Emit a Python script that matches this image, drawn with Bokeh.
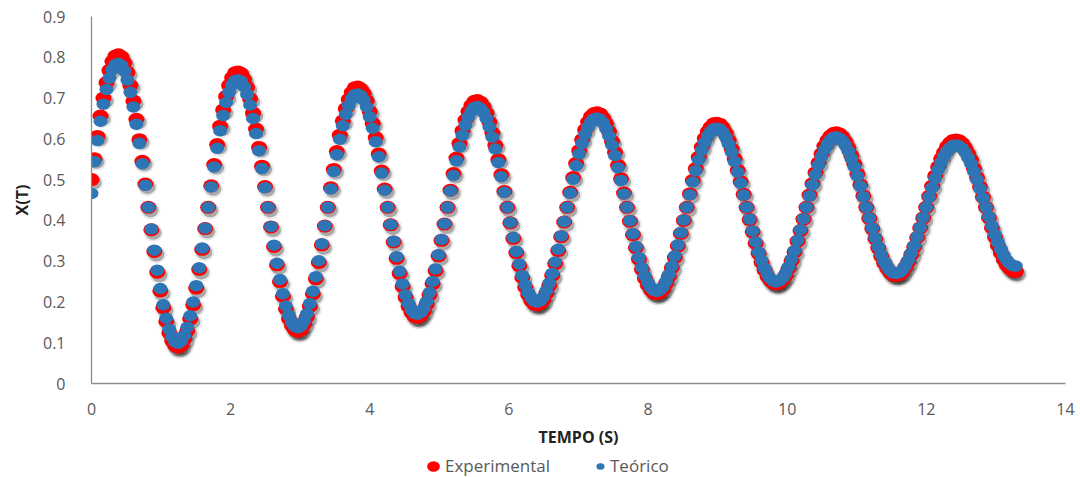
from bokeh.plotting import figure
from bokeh.layouts import column
from bokeh.models import Range1d, Legend, LegendItem, CustomJSTickFormatter, FixedTicker
from bokeh.embed import file_html
from bokeh.resources import INLINE

# ---------------- data ----------------
tempo = [
    0, 0.043, 0.086, 0.129, 0.172, 0.215, 0.258, 0.301, 0.344, 0.387,
    0.43, 0.473, 0.516, 0.559, 0.602, 0.645, 0.688, 0.731, 0.774, 0.817,
    0.86, 0.903, 0.946, 0.989, 1.032, 1.075, 1.118, 1.161, 1.204, 1.247,
    1.29, 1.333, 1.376, 1.419, 1.462, 1.505, 1.548, 1.591, 1.634, 1.677,
    1.72, 1.763, 1.806, 1.849, 1.892, 1.935, 1.978, 2.021, 2.064, 2.107,
    2.15, 2.193, 2.236, 2.279, 2.322, 2.365, 2.408, 2.451, 2.494, 2.537,
    2.58, 2.623, 2.666, 2.709, 2.752, 2.795, 2.838, 2.881, 2.924, 2.967,
    3.01, 3.053, 3.096, 3.139, 3.182, 3.225, 3.268, 3.311, 3.354, 3.397,
    3.44, 3.483, 3.526, 3.569, 3.612, 3.655, 3.698, 3.741, 3.784, 3.827,
    3.87, 3.913, 3.956, 3.999, 4.042, 4.085, 4.128, 4.171, 4.214, 4.257,
    4.3, 4.343, 4.386, 4.429, 4.472, 4.515, 4.558, 4.601, 4.644, 4.687,
    4.73, 4.773, 4.816, 4.859, 4.902, 4.945, 4.988, 5.031, 5.074, 5.117,
    5.16, 5.203, 5.246, 5.289, 5.332, 5.375, 5.418, 5.461, 5.504, 5.547,
    5.59, 5.633, 5.676, 5.719, 5.762, 5.805, 5.848, 5.891, 5.934, 5.977,
    6.02, 6.063, 6.106, 6.149, 6.192, 6.235, 6.278, 6.321, 6.364, 6.407,
    6.45, 6.493, 6.536, 6.579, 6.622, 6.665, 6.708, 6.751, 6.794, 6.837,
    6.88, 6.923, 6.966, 7.009, 7.052, 7.095, 7.138, 7.181, 7.224, 7.267,
    7.31, 7.353, 7.396, 7.439, 7.482, 7.525, 7.568, 7.611, 7.654, 7.697,
    7.74, 7.783, 7.826, 7.869, 7.912, 7.955, 7.998, 8.041, 8.084, 8.127,
    8.17, 8.213, 8.256, 8.299, 8.342, 8.385, 8.428, 8.471, 8.514, 8.557,
    8.6, 8.643, 8.686, 8.729, 8.772, 8.815, 8.858, 8.901, 8.944, 8.987,
    9.03, 9.073, 9.116, 9.159, 9.202, 9.245, 9.288, 9.331, 9.374, 9.417,
    9.46, 9.503, 9.546, 9.589, 9.632, 9.675, 9.718, 9.761, 9.804, 9.847,
    9.89, 9.933, 9.976, 10.019, 10.062, 10.105, 10.148, 10.191, 10.234, 10.277,
    10.32, 10.363, 10.406, 10.449, 10.492, 10.535, 10.578, 10.621, 10.664, 10.707,
    10.75, 10.793, 10.836, 10.879, 10.922, 10.965, 11.008, 11.051, 11.094, 11.137,
    11.18, 11.223, 11.266, 11.309, 11.352, 11.395, 11.438, 11.481, 11.524, 11.567,
    11.61, 11.653, 11.696, 11.739, 11.782, 11.825, 11.868, 11.911, 11.954, 11.997,
    12.04, 12.083, 12.126, 12.169, 12.212, 12.255, 12.298, 12.341, 12.384, 12.427,
    12.47, 12.513, 12.556, 12.599, 12.642, 12.685, 12.728, 12.771, 12.814, 12.857,
    12.9, 12.943, 12.986, 13.029, 13.072, 13.115, 13.158, 13.201, 13.244, 13.287,
]

experimental = [
    0.500, 0.551, 0.606, 0.656, 0.700, 0.738, 0.768, 0.790, 0.803, 0.806,
    0.801, 0.786, 0.763, 0.731, 0.693, 0.648, 0.598, 0.545, 0.489, 0.432,
    0.377, 0.324, 0.273, 0.227, 0.186, 0.152, 0.124, 0.104, 0.092, 0.089,
    0.094, 0.109, 0.129, 0.158, 0.193, 0.234, 0.280, 0.329, 0.380, 0.432,
    0.485, 0.537, 0.586, 0.631, 0.671, 0.704, 0.731, 0.750, 0.762, 0.764,
    0.760, 0.746, 0.726, 0.698, 0.663, 0.624, 0.579, 0.533, 0.483, 0.432,
    0.384, 0.336, 0.291, 0.250, 0.214, 0.183, 0.159, 0.142, 0.131, 0.128,
    0.132, 0.145, 0.163, 0.189, 0.220, 0.257, 0.297, 0.340, 0.386, 0.432,
    0.480, 0.525, 0.569, 0.609, 0.644, 0.674, 0.697, 0.714, 0.725, 0.727,
    0.722, 0.711, 0.693, 0.667, 0.638, 0.603, 0.563, 0.521, 0.477, 0.432,
    0.389, 0.347, 0.307, 0.270, 0.238, 0.211, 0.189, 0.174, 0.164, 0.162,
    0.166, 0.177, 0.194, 0.217, 0.245, 0.277, 0.313, 0.351, 0.391, 0.432,
    0.474, 0.515, 0.553, 0.589, 0.620, 0.646, 0.667, 0.682, 0.692, 0.694,
    0.690, 0.679, 0.663, 0.641, 0.614, 0.584, 0.549, 0.512, 0.471, 0.432,
    0.394, 0.356, 0.321, 0.289, 0.260, 0.236, 0.217, 0.203, 0.195, 0.193,
    0.196, 0.205, 0.221, 0.240, 0.265, 0.294, 0.326, 0.360, 0.396, 0.432,
    0.469, 0.505, 0.540, 0.571, 0.598, 0.622, 0.641, 0.655, 0.662, 0.664,
    0.661, 0.651, 0.637, 0.618, 0.594, 0.567, 0.535, 0.502, 0.467, 0.432,
    0.398, 0.365, 0.333, 0.305, 0.280, 0.258, 0.241, 0.229, 0.222, 0.220,
    0.223, 0.231, 0.245, 0.262, 0.284, 0.309, 0.337, 0.368, 0.400, 0.432,
    0.465, 0.498, 0.527, 0.555, 0.580, 0.601, 0.618, 0.629, 0.637, 0.638,
    0.636, 0.627, 0.614, 0.596, 0.575, 0.551, 0.523, 0.495, 0.464, 0.432,
    0.402, 0.372, 0.344, 0.319, 0.297, 0.278, 0.262, 0.252, 0.246, 0.244,
    0.247, 0.254, 0.265, 0.282, 0.301, 0.323, 0.349, 0.375, 0.403, 0.432,
    0.462, 0.490, 0.517, 0.541, 0.563, 0.582, 0.596, 0.607, 0.613, 0.615,
    0.612, 0.605, 0.593, 0.578, 0.559, 0.538, 0.514, 0.487, 0.460, 0.432,
    0.405, 0.380, 0.355, 0.332, 0.312, 0.295, 0.282, 0.272, 0.266, 0.265,
    0.267, 0.273, 0.285, 0.298, 0.316, 0.335, 0.358, 0.382, 0.406, 0.432,
    0.459, 0.484, 0.509, 0.531, 0.551, 0.567, 0.581, 0.590, 0.596, 0.597,
    0.595, 0.589, 0.578, 0.564, 0.548, 0.527, 0.505, 0.482, 0.457, 0.432,
    0.407, 0.382, 0.359, 0.338, 0.320, 0.303, 0.290, 0.282, 0.276, 0.275,
]

teorico = [
    0.466, 0.544, 0.596, 0.643, 0.685, 0.721, 0.749, 0.770, 0.782, 0.785,
    0.780, 0.766, 0.744, 0.714, 0.678, 0.636, 0.589, 0.539, 0.486, 0.432,
    0.379, 0.327, 0.278, 0.233, 0.193, 0.160, 0.133, 0.114, 0.102, 0.099,
    0.104, 0.118, 0.138, 0.166, 0.200, 0.240, 0.284, 0.332, 0.381, 0.432,
    0.482, 0.531, 0.577, 0.620, 0.657, 0.689, 0.714, 0.732, 0.743, 0.745,
    0.741, 0.728, 0.709, 0.683, 0.650, 0.613, 0.571, 0.527, 0.480, 0.432,
    0.385, 0.339, 0.295, 0.255, 0.220, 0.190, 0.167, 0.150, 0.140, 0.137,
    0.141, 0.153, 0.171, 0.196, 0.226, 0.262, 0.301, 0.343, 0.387, 0.432,
    0.477, 0.520, 0.561, 0.599, 0.632, 0.660, 0.682, 0.698, 0.708, 0.710,
    0.706, 0.695, 0.678, 0.654, 0.626, 0.593, 0.556, 0.516, 0.474, 0.432,
    0.390, 0.349, 0.311, 0.275, 0.244, 0.217, 0.196, 0.181, 0.172, 0.170,
    0.174, 0.184, 0.201, 0.223, 0.250, 0.281, 0.316, 0.353, 0.392, 0.432,
    0.472, 0.510, 0.546, 0.580, 0.609, 0.634, 0.654, 0.668, 0.677, 0.679,
    0.675, 0.665, 0.650, 0.629, 0.604, 0.575, 0.542, 0.507, 0.469, 0.432,
    0.395, 0.358, 0.324, 0.293, 0.265, 0.242, 0.223, 0.210, 0.202, 0.200,
    0.203, 0.212, 0.227, 0.246, 0.270, 0.298, 0.329, 0.362, 0.397, 0.432,
    0.467, 0.501, 0.534, 0.563, 0.589, 0.611, 0.629, 0.642, 0.649, 0.651,
    0.648, 0.639, 0.625, 0.607, 0.585, 0.559, 0.529, 0.498, 0.465, 0.432,
    0.399, 0.367, 0.336, 0.309, 0.284, 0.263, 0.247, 0.235, 0.228, 0.226,
    0.229, 0.237, 0.250, 0.267, 0.288, 0.313, 0.340, 0.370, 0.401, 0.432,
    0.463, 0.494, 0.522, 0.548, 0.572, 0.591, 0.607, 0.618, 0.625, 0.626,
    0.624, 0.616, 0.604, 0.587, 0.567, 0.544, 0.518, 0.491, 0.462, 0.432,
    0.403, 0.374, 0.347, 0.322, 0.301, 0.282, 0.267, 0.257, 0.251, 0.249,
    0.252, 0.259, 0.270, 0.286, 0.305, 0.326, 0.351, 0.377, 0.404, 0.432,
    0.460, 0.487, 0.512, 0.535, 0.556, 0.573, 0.587, 0.597, 0.603, 0.605,
    0.602, 0.595, 0.584, 0.570, 0.552, 0.532, 0.509, 0.484, 0.458, 0.432,
    0.406, 0.381, 0.357, 0.335, 0.315, 0.299, 0.286, 0.277, 0.271, 0.270,
    0.272, 0.278, 0.289, 0.302, 0.319, 0.338, 0.360, 0.383, 0.407, 0.432,
    0.457, 0.480, 0.503, 0.524, 0.542, 0.557, 0.570, 0.578, 0.584, 0.585,
    0.583, 0.577, 0.567, 0.554, 0.539, 0.520, 0.500, 0.478, 0.455, 0.432,
    0.409, 0.386, 0.365, 0.346, 0.329, 0.314, 0.302, 0.294, 0.289, 0.288,
]

x_ticks = [0, 2, 4, 6, 8, 10, 12, 14]
y_ticks = [0, 0.1, 0.2, 0.3, 0.4, 0.5, 0.6, 0.7, 0.8, 0.9]
series_names = ["Experimental", "Teórico"]
series_colors = ["#FF0000", "#2E75B6"]

# ---------------- main figure ----------------
FONT = "Open Sans"
GRAY_TXT = "#595959"

p = figure(
    width=1080, height=450,
    min_border_left=91, min_border_right=15, min_border_top=16, min_border_bottom=66,
    x_range=Range1d(0, 14), y_range=Range1d(0, 0.9),
    output_backend="svg", toolbar_location=None, tools="",
)
p.outline_line_color = None
p.background_fill_color = "white"
p.border_fill_color = "white"
p.xgrid.visible = False
p.ygrid.visible = False

# shadow ranges (shift a few pixels right / down)
p.extra_x_ranges = {"sh": Range1d(-0.03, 13.97)}
p.extra_y_ranges = {"sh": Range1d(0.0075, 0.9075)}

for ax in (p.xaxis[0], p.yaxis[0]):
    ax.axis_line_color = "#8C8C8C"
    ax.axis_line_width = 1.3
    ax.major_tick_line_color = None
    ax.minor_tick_line_color = None
    ax.major_label_text_font = FONT
    ax.major_label_text_font_size = "16px"
    ax.major_label_text_color = GRAY_TXT
    ax.axis_label_text_font = FONT
    ax.axis_label_text_font_size = "16px"
    ax.axis_label_text_font_style = "bold"
    ax.axis_label_text_color = "#222222"

p.xaxis.ticker = FixedTicker(ticks=x_ticks)
p.yaxis.ticker = FixedTicker(ticks=y_ticks)
p.yaxis.formatter = CustomJSTickFormatter(code="return (Math.round(tick*10)/10).toString();")
p.xaxis.axis_label = "TEMPO (S)"
p.yaxis.axis_label = "X(T)"
p.xaxis.major_label_standoff = 13
p.xaxis.axis_label_standoff = 8
p.yaxis.major_label_standoff = 20
p.yaxis.axis_label_standoff = 7

# soft drop shadow under the markers
p.ellipse(x=tempo, y=experimental, width=20, height=18, width_units="screen", height_units="screen",
          fill_color="black", fill_alpha=0.08, line_color=None, x_range_name="sh", y_range_name="sh")
p.ellipse(x=tempo, y=experimental, width=16, height=14, width_units="screen", height_units="screen",
          fill_color="black", fill_alpha=0.28, line_color=None, x_range_name="sh", y_range_name="sh")

p.ellipse(x=tempo, y=experimental, width=16, height=13, width_units="screen", height_units="screen",
          fill_color=series_colors[0], line_color=None)
p.ellipse(x=tempo, y=teorico, width=14, height=11.5, width_units="screen", height_units="screen",
          fill_color=series_colors[1], line_color=None)

# ---------------- legend strip (same series, out of view; only the legend shows) ----------------
q = figure(
    width=1080, height=27, min_border=0,
    x_range=Range1d(100, 101), y_range=Range1d(100, 101),
    x_axis_type=None, y_axis_type=None,
    output_backend="svg", toolbar_location=None, tools="",
)
q.outline_line_color = None
q.background_fill_color = "white"
q.border_fill_color = "white"

l_exp = q.ellipse(x=tempo, y=experimental, width=16, height=13, width_units="screen", height_units="screen",
                  fill_color=series_colors[0], line_color=None)
l_teo = q.ellipse(x=tempo, y=teorico, width=14, height=11.5, width_units="screen", height_units="screen",
                  fill_color=series_colors[1], line_color=None)

common = dict(orientation="horizontal", padding=0, margin=0, border_line_color=None,
              background_fill_alpha=0, label_text_font=FONT, label_text_font_size="17px",
              label_text_color=GRAY_TXT, label_text_baseline="middle",
              glyph_height=22, label_height=22)
leg1 = Legend(items=[LegendItem(label=series_names[0], renderers=[l_exp])], location=(334, 0),
              glyph_width=16, label_standoff=4, **common)
leg2 = Legend(items=[LegendItem(label=series_names[1], renderers=[l_teo])], location=(504, 0),
              glyph_width=10, label_standoff=5, **common)
q.add_layout(leg1, "center")
q.add_layout(leg2, "center")

layout = column(p, q, spacing=0)
open("out.html", "w").write(file_html(layout, INLINE))
